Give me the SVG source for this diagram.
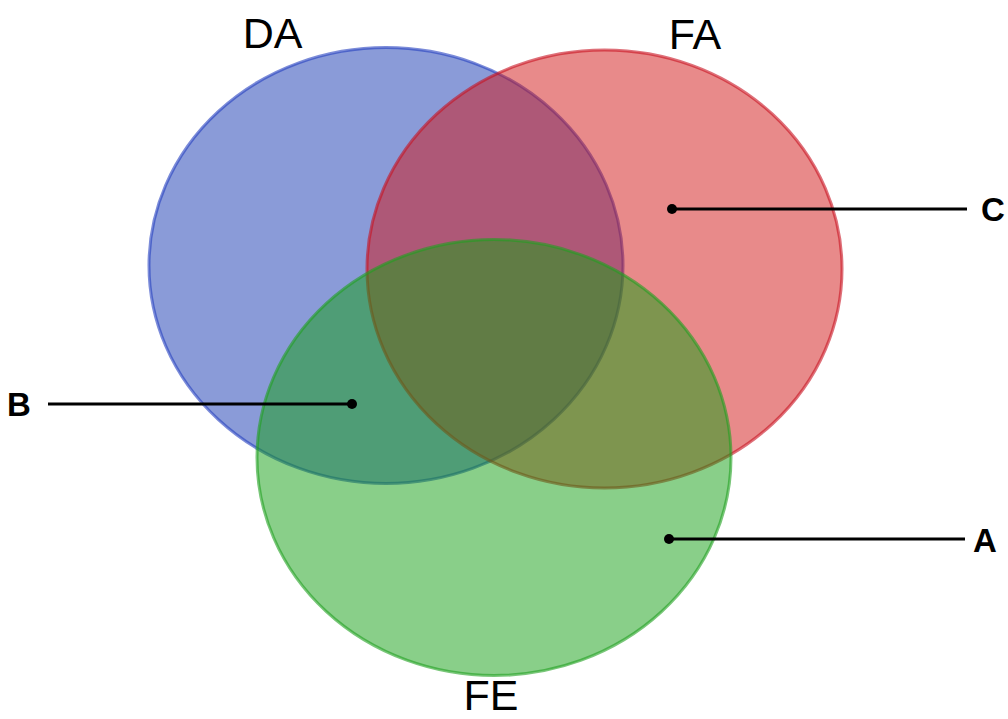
<svg xmlns="http://www.w3.org/2000/svg" width="1008" height="719" viewBox="0 0 1008 719">
<style>
.set{fill-opacity:0.5;stroke-opacity:0.6;stroke-width:3}
.title{font-family:"Liberation Sans",Arial,sans-serif;font-size:43px;fill:#000}
.lbl{font-family:"Liberation Sans",Arial,sans-serif;font-size:33px;font-weight:bold;fill:#000}
.lead{stroke:#000;stroke-width:3;fill:none}
</style>
<rect width="1008" height="719" fill="#fff"/>
<g id="DA">
<ellipse class="set" cx="386" cy="265.5" rx="237" ry="218" fill="#1537b1" stroke="#2540c0"/>
<text class="title" x="272.5" y="48" text-anchor="middle">DA</text>
</g>
<g id="FA">
<ellipse class="set" cx="604.5" cy="269" rx="237.5" ry="219" fill="#d11515" stroke="#c81020"/>
<text class="title" x="695" y="49" text-anchor="middle">FA</text>
</g>
<g id="FE">
<ellipse class="set" cx="494" cy="457.5" rx="237" ry="218" fill="#139f13" stroke="#20a020"/>
<text class="title" x="491" y="710" text-anchor="middle">FE</text>
</g>
<g id="connectors">
<line class="lead" x1="48" y1="404" x2="352" y2="404"/>
<circle cx="352" cy="404" r="5"/>
<line class="lead" x1="672" y1="209" x2="967" y2="209"/>
<circle cx="672" cy="209" r="5"/>
<line class="lead" x1="669" y1="539" x2="965" y2="539"/>
<circle cx="669" cy="539" r="5"/>
</g>
<g id="label-B"><text class="lbl" x="7" y="416">B</text></g>
<g id="label-C"><text class="lbl" x="981" y="221">C</text></g>
<g id="label-A"><text class="lbl" x="973" y="552">A</text></g>
</svg>
